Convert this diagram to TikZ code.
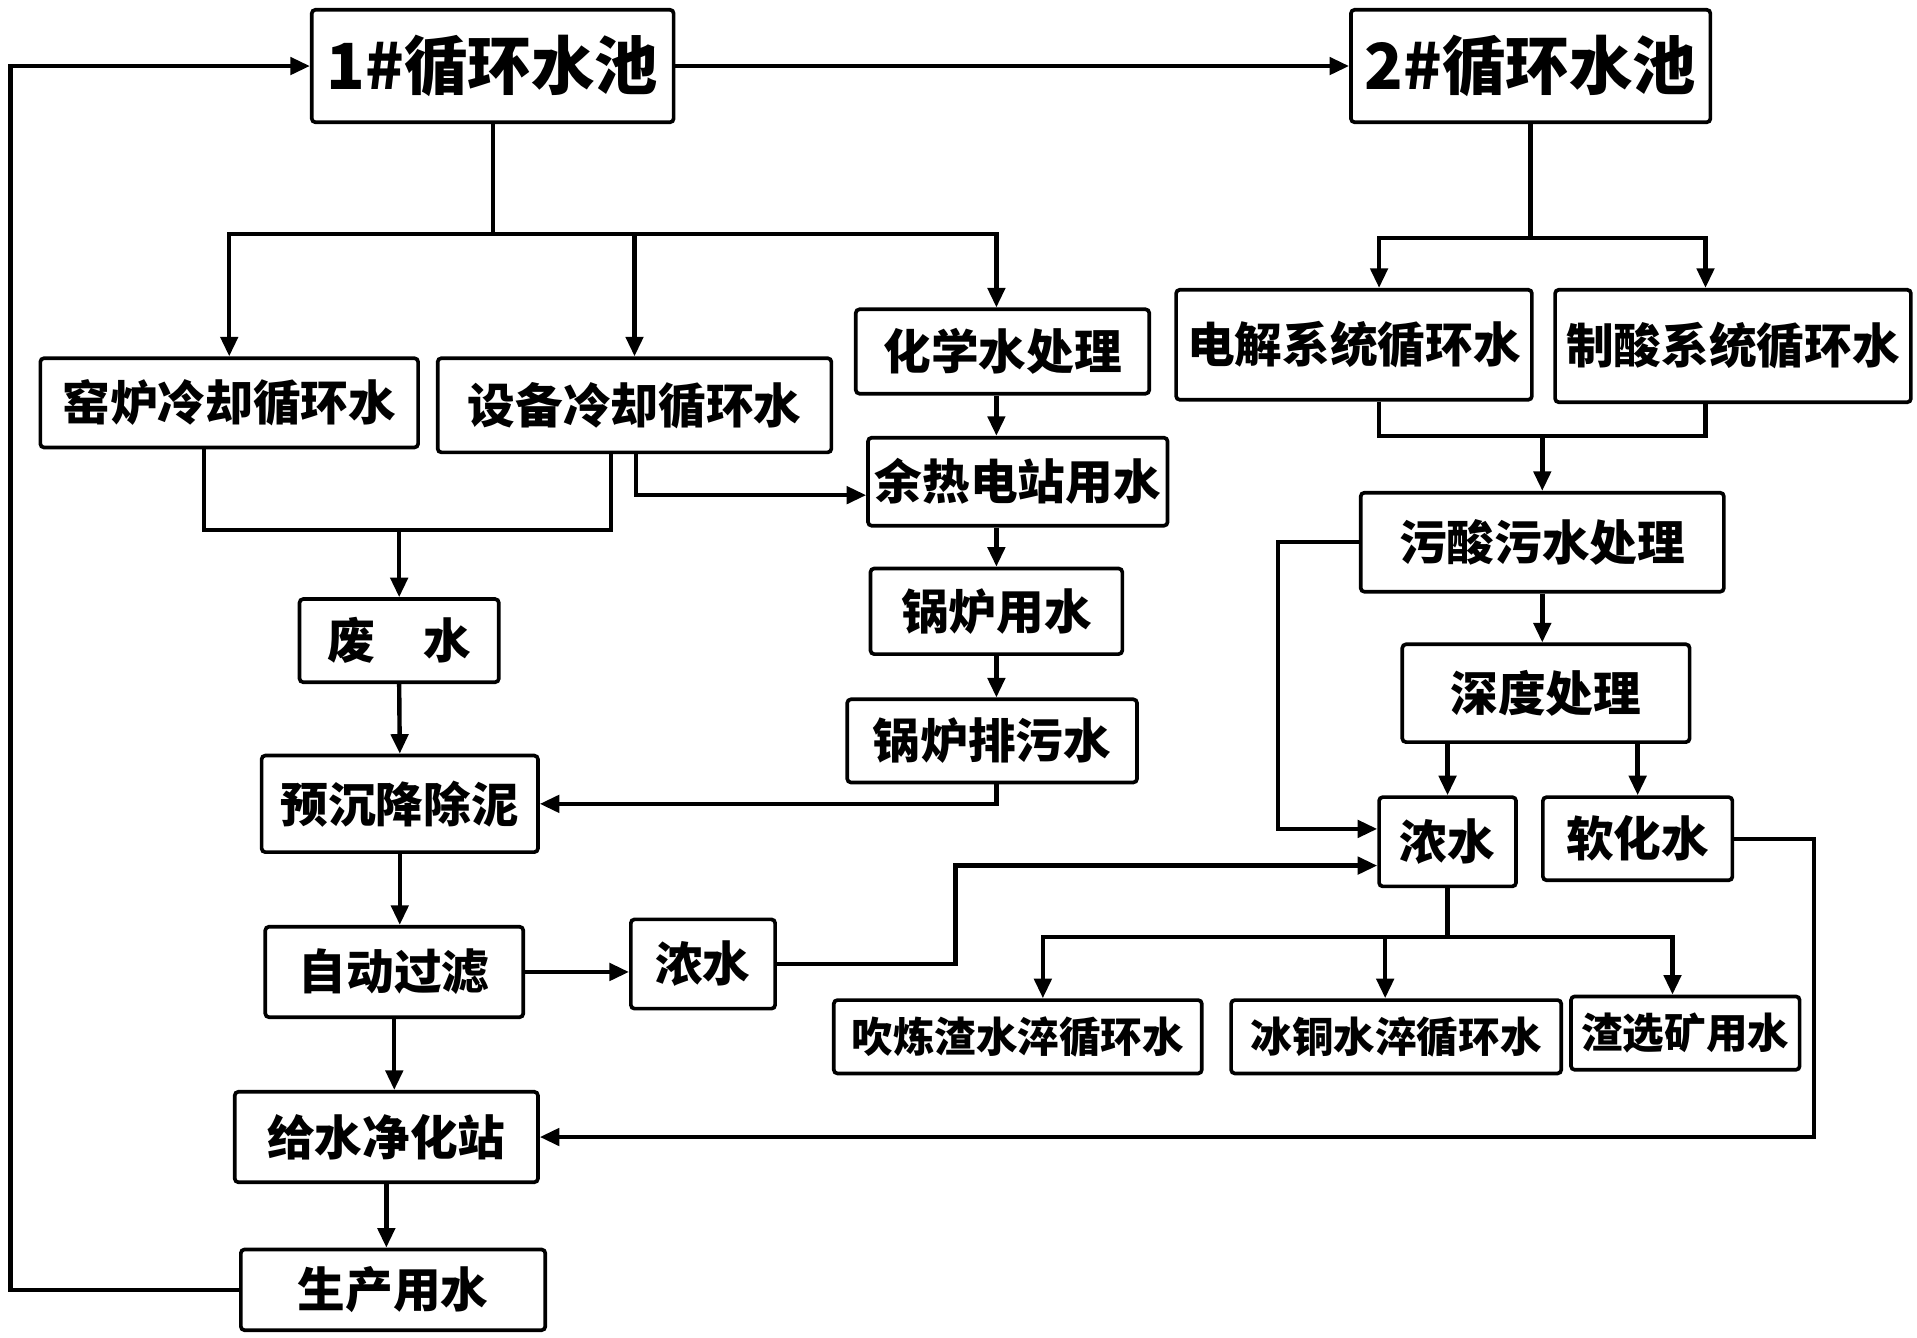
\documentclass[tikz,border=0pt]{standalone}
\usepackage{fontspec}
\newfontfamily\cjk{Noto Sans CJK SC}
\usetikzlibrary{arrows.meta}
\begin{document}
\begin{tikzpicture}[x=0.5pt,y=-0.5pt,
  box/.style={draw, line width=1.5pt, rounded corners=1.5pt, inner sep=0pt, fill=white,
    font=\cjk\bfseries\fontsize{19.5}{20}\selectfont},
  title/.style={font=\cjk\bfseries\fontsize{26}{28}\selectfont},
  small/.style={font=\cjk\bfseries\fontsize{17}{18}\selectfont},
  ln/.style={line width=1.8pt},
  ar/.style={ln, -{Triangle[length=8pt,width=7pt]}}]
\useasboundingbox[fill=white] (0,0) rectangle (1568,1094);
% nodes
\node[box,title,minimum width=148pt,minimum height=46pt] (p1) at (403,54) {1\#循环水池};
\node[box,title,minimum width=147pt,minimum height=46pt] (p2) at (1252,54) {2\#循环水池};
\node[box,minimum width=154.5pt,minimum height=36.5pt] (yl) at (187.5,329.5) {窑炉冷却循环水};
\node[box,minimum width=161pt,minimum height=38.5pt] (sb) at (519,331.5) {设备冷却循环水};
\node[box,minimum width=120pt,minimum height=34.5pt] (hx) at (820,287.5) {化学水处理};
\node[box,minimum width=122.5pt,minimum height=36pt] (yr) at (832.5,394) {余热电站用水};
\node[box,minimum width=103pt,minimum height=35pt] (gl) at (815,500) {锅炉用水};
\node[box,minimum width=118.5pt,minimum height=34pt] (gp) at (811.5,606) {锅炉排污水};
\node[box,minimum width=81.5pt,minimum height=34pt] (fs) at (326.5,524) {废　水};
\node[box,minimum width=113pt,minimum height=39.5pt] (yc) at (327,657.5) {预沉降除泥};
\node[box,minimum width=105.5pt,minimum height=37pt] (zd) at (322.5,795) {自动过滤};
\node[box,minimum width=59pt,minimum height=36.5pt] (nl) at (575,788.5) {浓水};
\node[box,minimum width=124pt,minimum height=37pt] (js) at (316,930) {给水净化站};
\node[box,minimum width=124.5pt,minimum height=33pt] (sc) at (321.5,1055) {生产用水};
\node[box,minimum width=145.5pt,minimum height=45pt] (dj) at (1107.5,282) {电解系统循环水};
\node[box,minimum width=145.5pt,minimum height=46pt] (zs) at (1417.5,283) {制酸系统循环水};
\node[box,minimum width=148.5pt,minimum height=40.5pt] (ws) at (1261.5,443.5) {污酸污水处理};
\node[box,minimum width=117.5pt,minimum height=40pt] (sd) at (1264.5,567) {深度处理};
\node[box,minimum width=56pt,minimum height=36.5pt] (nr) at (1184,688.5) {浓水};
\node[box,minimum width=77.5pt,minimum height=34pt] (rh) at (1339.5,686) {软化水};
\node[box,small,minimum width=150.5pt,minimum height=30pt] (cl) at (832.5,848) {吹炼渣水淬循环水};
\node[box,small,minimum width=135pt,minimum height=30pt] (bt) at (1142,848) {冰铜水淬循环水};
\node[box,small,minimum width=93.5pt,minimum height=30pt] (zx) at (1378.5,845) {渣选矿用水};
% connectors
\draw[ar] (sc.west) -- ++(-187,0) |- (p1.west);
\draw[ar] (p1.east) -- (p2.west);
\draw[ln] (p1.south) -- ++(0,90) coordinate (t1);
\draw[ar] (t1) -| (yl.north);
\draw[ar] (t1) -| (sb.north);
\draw[ar] (t1) -| (hx.north -| gl.north);
\draw[ln] ([xshift=-10.25pt]yl.south) -- ++(0,66) -| ([xshift=-9.5pt]sb.south);
\draw[ar] (fs.north |- 0,432) -- (fs.north);
\draw[ar] ([xshift=0.5pt]sb.south) |- ([yshift=-5.5pt]yr.west);
\draw[ar] (hx.south -| gl.north) -- (yr.north -| gl.north);
\draw[ar] (yr.south -| gl.north) -- (gl.north);
\draw[ar] (gl.south) -- (gp.north -| gl.north);
\draw[ar] (gp.south -| gl.north) |- (yc.east);
\draw[ar] (fs.south) -- (yc.north);
\draw[ar] (yc.south) -- (yc.south |- zd.north);
\draw[ar] (zd.east) -- (zd.east -| nl.west);
\draw[ar] (nl.east) -- ++(146,0) |- ([yshift=-9.75pt]nr.west);
\draw[ar] (zd.south) -- (zd.south |- js.north);
\draw[ar] (js.south) -- (js.south |- sc.north);
\draw[ln] (p2.south) -- ++(0,93) coordinate (t2);
\draw[ar] (t2) -| ([xshift=10.25pt]dj.north);
\draw[ar] (t2) -| ([xshift=-11.25pt]zs.north);
\draw[ln] ([xshift=10.25pt]dj.south) -- ++(0,28) -| ([xshift=-11.25pt]zs.south);
\draw[ar] (ws.north |- 0,355) -- (ws.north);
\draw[ar] (ws.west) -- ++(-66,0) |- ([yshift=5.25pt]nr.west);
\draw[ar] (ws.south) -- (ws.south |- sd.north);
\draw[ar] (nr.north |- sd.south) -- (nr.north);
\draw[ar] (rh.north |- sd.south) -- (rh.north);
\draw[ln] (nr.south) -- ++(0,40) coordinate (t3);
\draw[ar] (t3) -| ([xshift=10.25pt]cl.north);
\draw[ar] (t3) -| ([xshift=-4.5pt]bt.north);
\draw[ar] (t3) -| ([xshift=-5.25pt]zx.north);
\draw[ar] (rh.east) -- ++(65,0) |- (js.east);
\end{tikzpicture}
\end{document}
